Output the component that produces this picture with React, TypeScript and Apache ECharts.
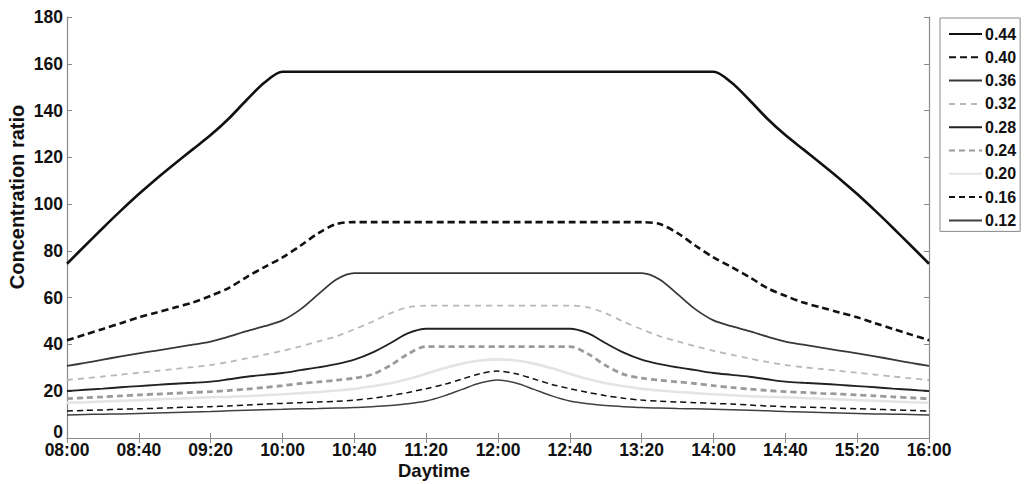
import React, { useEffect, useRef } from "react";
import * as echarts from "echarts";

const TIMES = [
  "08:00","08:10","08:20","08:30","08:40","08:50","09:00","09:10","09:20","09:30","09:40","09:50",
  "10:00","10:10","10:20","10:30","10:40","10:50","11:00","11:10","11:20","11:30","11:40","11:50",
  "12:00","12:10","12:20","12:30","12:40","12:50","13:00","13:10","13:20","13:30","13:40","13:50",
  "14:00","14:10","14:20","14:30","14:40","14:50","15:00","15:10","15:20","15:30","15:40","15:50",
  "16:00",
];

const S044 = [
  74.5, 82.2, 89.8, 97.2, 104.3, 111.0, 117.3, 123.4, 129.5, 136.5, 144.5, 152.0,
  156.6, 156.6, 156.6, 156.6, 156.6, 156.6, 156.6, 156.6, 156.6, 156.6, 156.6, 156.6, 156.6,
  156.6, 156.6, 156.6, 156.6, 156.6, 156.6, 156.6, 156.6, 156.6, 156.6, 156.6, 156.6,
  152.0, 144.5, 136.5, 129.5, 123.4, 117.3, 111.0, 104.3, 97.2, 89.8, 82.2, 74.5,
];
const S040 = [
  41.8, 44.2, 46.6, 49.1, 51.6, 53.7, 55.8, 57.9, 60.8, 64.1, 68.8, 73.1, 77.2, 82.2, 87.6, 91.5,
  92.3, 92.3, 92.3, 92.3, 92.3, 92.3, 92.3, 92.3, 92.3, 92.3, 92.3, 92.3, 92.3, 92.3, 92.3, 92.3, 92.3,
  91.5, 87.6, 82.2, 77.2, 73.1, 68.8, 64.1, 60.8, 57.9, 55.8, 53.7, 51.6, 49.1, 46.6, 44.2, 41.8,
];
const S036 = [
  30.8, 32.1, 33.5, 34.9, 36.2, 37.4, 38.6, 39.9, 41.2, 43.3, 45.7, 47.8, 50.3, 55.0, 61.5, 67.8,
  70.5, 70.5, 70.5, 70.5, 70.5, 70.5, 70.5, 70.5, 70.5, 70.5, 70.5, 70.5, 70.5, 70.5, 70.5, 70.5, 70.5,
  67.8, 61.5, 55.0, 50.3, 47.8, 45.7, 43.3, 41.2, 39.9, 38.6, 37.4, 36.2, 34.9, 33.5, 32.1, 30.8,
];
const S032 = [
  24.8, 25.5, 26.3, 27.1, 27.9, 28.7, 29.5, 30.3, 31.2, 32.5, 34.0, 35.6, 37.3, 39.2, 41.3, 43.5, 46.5, 49.7, 53.3, 55.9,
  56.6, 56.6, 56.6, 56.6, 56.6, 56.6, 56.6, 56.6, 56.6,
  55.9, 53.3, 49.7, 46.5, 43.5, 41.3, 39.2, 37.3, 35.6, 34.0, 32.5, 31.2, 30.3, 29.5, 28.7, 27.9, 27.1, 26.3, 25.5, 24.8,
];
const S028 = [
  20.1, 20.6, 21.1, 21.7, 22.2, 22.7, 23.2, 23.6, 24.1, 25.1, 26.2, 27.0, 27.8, 29.0, 30.2, 31.6, 33.5, 36.5, 40.5, 44.8,
  46.7, 46.7, 46.7, 46.7, 46.7, 46.7, 46.7, 46.7, 46.7,
  44.8, 40.5, 36.5, 33.5, 31.6, 30.2, 29.0, 27.8, 27.0, 26.2, 25.1, 24.1, 23.6, 23.2, 22.7, 22.2, 21.7, 21.1, 20.6, 20.1,
];
const S024 = [
  16.8, 17.2, 17.6, 18.0, 18.4, 18.8, 19.1, 19.5, 19.8, 20.3, 20.9, 21.6, 22.4, 23.3, 24.0, 24.7, 25.6, 27.2, 31.0, 36.0,
  39.1, 39.1, 39.1, 39.1, 39.1, 39.1, 39.1, 39.1, 39.1,
  36.0, 31.0, 27.2, 25.6, 24.7, 24.0, 23.3, 22.4, 21.6, 20.9, 20.3, 19.8, 19.5, 19.1, 18.8, 18.4, 18.0, 17.6, 17.2, 16.8,
];
const S020 = [
  15.1, 15.3, 15.6, 15.9, 16.2, 16.5, 16.8, 17.1, 17.4, 17.6, 17.9, 18.3, 18.7, 19.2, 19.7, 20.3, 21.0, 22.1, 23.4, 25.2,
  27.5, 29.8, 31.8, 33.1, 33.6,
  33.1, 31.8, 29.8, 27.5, 25.2, 23.4, 22.1, 21.0, 20.3, 19.7, 19.2, 18.7, 18.3, 17.9, 17.6, 17.4, 17.1, 16.8, 16.5, 16.2,
  15.9, 15.6, 15.3, 15.1,
];
const S016 = [
  11.5, 11.8, 12.0, 12.3, 12.5, 12.7, 13.0, 13.2, 13.4, 13.7, 14.1, 14.5, 14.8, 15.1, 15.4, 15.7, 16.2, 17.0, 18.1, 19.5,
  21.1, 22.9, 25.2, 27.5, 28.6,
  27.5, 25.2, 22.9, 21.1, 19.5, 18.1, 17.0, 16.2, 15.7, 15.4, 15.1, 14.8, 14.5, 14.1, 13.7, 13.4, 13.2, 13.0, 12.7, 12.5,
  12.3, 12.0, 11.8, 11.5,
];
const S012 = [
  9.8, 10.0, 10.2, 10.3, 10.5, 10.7, 10.9, 11.1, 11.3, 11.6, 11.9, 12.1, 12.3, 12.5, 12.6, 12.8, 13.0, 13.4, 13.9, 14.6,
  15.8, 18.0, 20.8, 23.5, 24.8,
  23.5, 20.8, 18.0, 15.8, 14.6, 13.9, 13.4, 13.0, 12.8, 12.6, 12.5, 12.3, 12.1, 11.9, 11.6, 11.3, 11.1, 10.9, 10.7, 10.5,
  10.3, 10.2, 10.0, 9.8,
];

const SERIES_NAMES = ["0.44", "0.40", "0.36", "0.32", "0.28", "0.24", "0.20", "0.16", "0.12"];
const SERIES_DATA = [S044, S040, S036, S032, S028, S024, S020, S016, S012];
const STYLES = [
  { color: "#111111", width: 2.6, type: "solid" },
  { color: "#111111", width: 2.6, type: [7, 4] },
  { color: "#383838", width: 1.8, type: "solid" },
  { color: "#b8b8b8", width: 1.8, type: [6, 5] },
  { color: "#222222", width: 1.9, type: "solid" },
  { color: "#9a9a9a", width: 2.8, type: [6, 4] },
  { color: "#e4e4e4", width: 2.6, type: "solid" },
  { color: "#111111", width: 1.5, type: [6, 4] },
  { color: "#404040", width: 1.5, type: "solid" },
];

const X_TITLE = "Daytime";
const Y_TITLE = "Concentration ratio";

const FONT = "'Liberation Sans', Arial, Helvetica, sans-serif";
const AXIS_GRAY = "#8a8a8a";

export default function App() {
  const ref = useRef<HTMLDivElement>(null);
  useEffect(() => {
    if (!ref.current) return;
    const chart = echarts.init(ref.current, null, { renderer: "svg" });
    const axisCommon = {
      axisLine: { show: true, lineStyle: { color: AXIS_GRAY, width: 1.2 } },
      axisTick: { show: true, inside: true, length: 5, lineStyle: { color: AXIS_GRAY } },
      splitLine: { show: false },
    };
    chart.setOption({
      animation: false,
      backgroundColor: "#ffffff",
      grid: { left: 67, right: 96, top: 17, bottom: 46, containLabel: false },
      legend: {
        orient: "vertical",
        left: 940,
        top: 18,
        width: 82,
        padding: [8, 4, 3, 8],
        itemWidth: 33,
        itemHeight: 14,
        itemGap: 7.3,
        borderColor: "#888888",
        borderWidth: 1,
        backgroundColor: "#ffffff",
        itemStyle: { color: "rgba(0,0,0,0)", borderWidth: 0, borderColor: "rgba(0,0,0,0)" },
        textStyle: {
          fontFamily: FONT,
          fontWeight: "bold",
          fontSize: 16,
          color: "#111",
          padding: [0, 0, 0, -2],
        },
        data: SERIES_NAMES,
      },
      graphic: [
        {
          type: "text",
          left: 398,
          top: 461,
          style: { text: X_TITLE, font: `bold 18.5px ${FONT}`, fill: "#111" },
        },
        {
          type: "text",
          x: 17,
          y: 197,
          rotation: Math.PI / 2,
          style: {
            text: Y_TITLE,
            font: `bold 20px ${FONT}`,
            fill: "#111",
            align: "center",
            verticalAlign: "middle",
          },
        },
      ],
      xAxis: [
        {
          type: "category",
          data: TIMES,
          boundaryGap: false,
          ...axisCommon,
          axisTick: { ...axisCommon.axisTick, interval: 3 },
          axisLabel: {
            interval: 3,
            margin: 3,
            fontFamily: FONT,
            fontWeight: "bold",
            fontSize: 17.5,
            color: "#111",
          },
        },
        {
          type: "category",
          data: TIMES,
          boundaryGap: false,
          position: "top",
          ...axisCommon,
          axisTick: { ...axisCommon.axisTick, interval: 3 },
          axisLabel: { show: false },
        },
      ],
      yAxis: [
        {
          type: "value",
          min: 0,
          max: 180,
          interval: 20,
          ...axisCommon,
          axisLabel: {
            margin: 4,
            fontFamily: FONT,
            fontWeight: "bold",
            fontSize: 17.5,
            color: "#111",
            formatter: (v: number) => (v === 0 ? "{z|0}" : String(v)),
            rich: {
              z: {
                fontFamily: FONT,
                fontWeight: "bold",
                fontSize: 17.5,
                color: "#111",
                padding: [0, 0, 12, 0],
              },
            },
          },
        },
        {
          type: "value",
          min: 0,
          max: 180,
          interval: 20,
          position: "right",
          ...axisCommon,
          axisLabel: { show: false },
        },
      ],
      series: SERIES_NAMES.map((name, i) => ({
        name,
        type: "line",
        xAxisIndex: 0,
        yAxisIndex: 0,
        data: SERIES_DATA[i],
        symbol: "none",
        smooth: 0.3,
        z: 10 - i,
        lineStyle: { color: STYLES[i].color, width: STYLES[i].width, type: STYLES[i].type },
        itemStyle: { color: STYLES[i].color },
      })),
    });
    return () => chart.dispose();
  }, []);
  return (
    <div
      ref={ref}
      style={{ position: "fixed", left: 0, top: 0, width: 1025, height: 484, background: "#fff" }}
    />
  );
}
